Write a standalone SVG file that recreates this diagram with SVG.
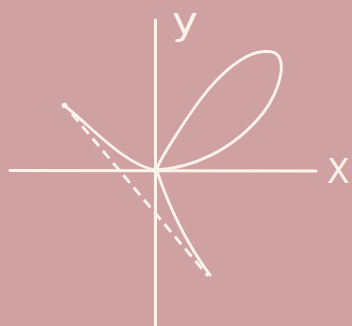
<svg xmlns="http://www.w3.org/2000/svg" width="352" height="326" viewBox="0 0 352 326">
<style>
.ax{stroke:#fbf2ea;stroke-width:3;fill:none;stroke-linecap:round}
.cv{stroke:#fbf2ea;stroke-width:2.9;fill:none;stroke-linecap:round;stroke-linejoin:round}
.ds{stroke:#fbf2ea;stroke-width:2.9;fill:none;stroke-dasharray:10 6}
.lb{fill:#fbf2ea;font-family:"DejaVu Sans",sans-serif}
</style>
<rect width="352" height="326" fill="#cfa1a2"/>
<g id="axes">
<line class="ax" x1="10" y1="170.5" x2="316" y2="171"/>
<line class="ax" x1="155.5" y1="20" x2="155.5" y2="326"/>
</g>
<g id="labels">
<text class="lb" x="172" y="34" font-size="37" textLength="26" lengthAdjust="spacingAndGlyphs">y</text>
<text class="lb" x="327" y="183" font-size="33">X</text>
</g>
<g id="curve">
<path class="cv" d="M156.5,170 C190,168 232,152 263,113 C280,92 292,50 267,51.5 C245,50 218,76 200,100 C186,119 159,160 156.5,170 Z"/>
<path class="cv" d="M65,106 C95,130 125,165 156.5,170.5"/>
<circle cx="64.5" cy="105.5" r="2.8" fill="#fbf2ea"/>
<path class="cv" d="M156.5,170 C165,195 180,235 210,275"/>
<circle cx="156.5" cy="170.5" r="3.5" fill="#fbf2ea"/>
</g>
<g id="asymptote">
<line class="ds" x1="72" y1="114" x2="208" y2="276"/>
</g>
</svg>
